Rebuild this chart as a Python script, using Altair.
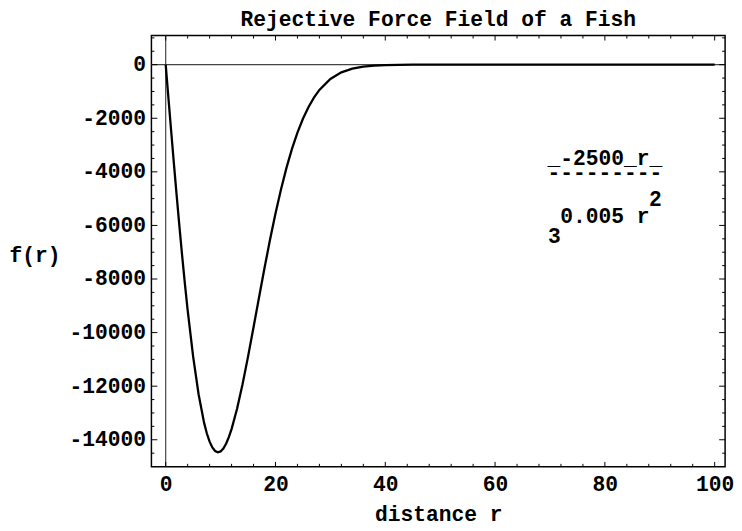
import altair as alt
import pandas as pd

# curve values
r_vals = [0, 0.5, 1, 1.5, 2, 2.5, 3, 3.5, 4, 5, 6, 7, 7.5, 8, 8.5, 9, 9.5, 10,
          10.5, 11, 11.5, 12, 13, 14, 15, 16, 17, 18, 19, 20, 21, 22, 23, 24,
          25, 26, 27, 28, 30, 32, 34, 36, 38, 40, 45, 50, 60, 70, 80, 90, 100]
f_vals = [0, -1248, -2486, -3704, -4891, -6039, -7138, -8181, -9158, -10896,
          -12309, -13370, -13766, -14072, -14288, -14419, -14467, -14435,
          -14326, -14147, -13904, -13602, -12845, -11925, -10896, -9802,
          -8688, -7590, -6538, -5556, -4656, -3852, -3145, -2536, -2017,
          -1586, -1231, -943, -535, -288, -148, -73, -34, -15, -2, 0, 0, 0,
          0, 0, 0]

x_major = [0, 20, 40, 60, 80, 100]
x_minor = [4, 8, 12, 16, 24, 28, 32, 36, 44, 48, 52, 56, 64, 68, 72, 76,
           84, 88, 92, 96]
y_major = [0, -2000, -4000, -6000, -8000, -10000, -12000, -14000]
y_minor = [1000, 500, -500, -1000, -1500, -2500, -3000, -3500, -4500, -5000,
           -5500, -6500, -7000, -7500, -8500, -9000, -9500, -10500, -11000,
           -11500, -12500, -13000, -13500, -14500]

note_text = ["_-2500_r_", "---------", "2", "0.005 r", "3"]
note_r = [80.0, 80.0, 89.2, 80.0, 70.8]
note_f = [-3520, -4060, -5072, -5700, -6420]

W, H = 580, 436
FONT = "Liberation Mono"
FS = 21.5

curve = pd.DataFrame({"r": r_vals, "f": f_vals})
xs = alt.Scale(domain=[-2.6, 101.9], nice=False, zero=False)
ys = alt.Scale(domain=[-15010, 1086], nice=False, zero=False)

xaxis = alt.Axis(values=x_major, ticks=False, domain=False, grid=False,
                 labelFont=FONT, labelFontSize=FS, labelFontWeight="bold",
                 labelColor="black", labelPadding=7, format="d",
                 labelOverlap=False, labelBound=False, labelFlush=False,
                 title="distance r", titleFont=FONT, titleFontSize=FS,
                 titleFontWeight="bold", titleColor="black", titleY=48,
                 titleBaseline="middle")
yaxis = alt.Axis(values=y_major, ticks=False, domain=False, grid=False,
                 labelFont=FONT, labelFontSize=FS, labelFontWeight="bold",
                 labelColor="black", labelPadding=6, format="d",
                 labelExpr="replace(datum.label, '\u2212', '-')",
                 title="f(r)", titleFont=FONT, titleFontSize=FS,
                 titleFontWeight="bold", titleColor="black", titleAngle=0,
                 titleAlign="left", titleX=-144, titleY=222,
                 titleBaseline="middle")

X = alt.X("r:Q", scale=xs, axis=xaxis)
Y = alt.Y("f:Q", scale=ys, axis=yaxis)

line = alt.Chart(curve).mark_line(color="black", strokeWidth=2.3).encode(x=X, y=Y)

zero_h = alt.Chart(pd.DataFrame({"f": [0]})).mark_rule(
    color="#444444", strokeWidth=1.2).encode(y=Y)
zero_v = alt.Chart(pd.DataFrame({"r": [0]})).mark_rule(
    color="#444444", strokeWidth=1.2).encode(x=X)


def xticks(vals, length):
    d = pd.DataFrame({"r": vals})
    b = alt.Chart(d).mark_rule(color="black", strokeWidth=1).encode(
        x=X, y=alt.value(H), y2=alt.value(H - length))
    t = alt.Chart(d).mark_rule(color="black", strokeWidth=1).encode(
        x=X, y=alt.value(0), y2=alt.value(length))
    return b + t


def yticks(vals, length):
    d = pd.DataFrame({"f": vals})
    l = alt.Chart(d).mark_rule(color="black", strokeWidth=1).encode(
        y=Y, x=alt.value(0), x2=alt.value(length))
    rr = alt.Chart(d).mark_rule(color="black", strokeWidth=1).encode(
        y=Y, x=alt.value(W), x2=alt.value(W - length))
    return l + rr


notes = alt.Chart(pd.DataFrame({"r": note_r, "f": note_f, "t": note_text})).mark_text(
    font=FONT, fontSize=21.5, fontWeight="bold", color="black",
    align="center", baseline="middle").encode(x=X, y=Y, text="t:N")

chart = alt.layer(
    zero_h, zero_v,
    xticks(x_major, 5), xticks(x_minor, 3),
    yticks(y_major, 6), yticks(y_minor, 3),
    line, notes
).properties(
    width=W, height=H,
    autosize="none",
    padding={"left": 145, "top": 25, "right": 9, "bottom": 62},
    title=alt.TitleParams("Rejective Force Field of a Fish", font=FONT,
                          fontSize=FS, fontWeight="bold", color="black",
                          anchor="middle", offset=5),
).configure_view(stroke="black", strokeWidth=1.5)

chart.save("out.html", embed_options={"renderer": "svg", "actions": False})
